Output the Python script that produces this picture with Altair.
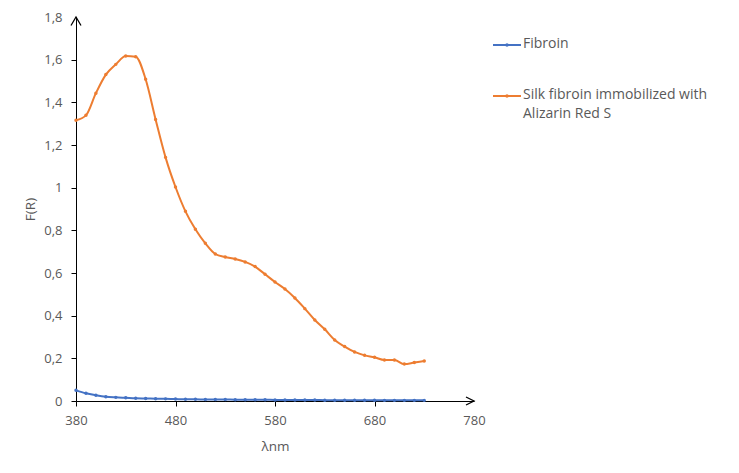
import altair as alt
import pandas as pd

wavelength = [380, 390, 400, 410, 420, 430, 440, 450, 460, 470, 480, 490, 500, 510,
              520, 530, 540, 550, 560, 570, 580, 590, 600, 610, 620, 630, 640, 650,
              660, 670, 680, 690, 700, 710, 720, 730]

fibroin = [0.050, 0.036, 0.027, 0.020, 0.017, 0.015, 0.013, 0.012, 0.011, 0.010,
           0.009, 0.008, 0.008, 0.007, 0.007, 0.007, 0.006, 0.006, 0.006, 0.006,
           0.005, 0.005, 0.005, 0.005, 0.005, 0.004, 0.004, 0.004, 0.004, 0.004,
           0.004, 0.003, 0.003, 0.003, 0.003, 0.003]

alizarin = [1.316, 1.339, 1.443, 1.530, 1.578, 1.617, 1.614, 1.508, 1.320, 1.142,
            1.003, 0.889, 0.805, 0.739, 0.689, 0.675, 0.666, 0.652, 0.630, 0.594,
            0.558, 0.525, 0.483, 0.433, 0.380, 0.336, 0.286, 0.255, 0.230, 0.214,
            0.205, 0.192, 0.192, 0.173, 0.180, 0.187]

series_names = ["Fibroin", "Silk fibroin immobilized with Alizarin Red S"]
legend_labels = ["Fibroin", "Silk fibroin immobilized with\nAlizarin Red S"]
colors = ["#4472C4", "#ED7D31"]

x_ticks = [380, 480, 580, 680, 780]
y_ticks = [0, 0.2, 0.4, 0.6, 0.8, 1.0, 1.2, 1.4, 1.6, 1.8]

df = pd.DataFrame({
    "nm": wavelength * 2,
    "value": fibroin + alizarin,
    "series": [series_names[0]] * len(wavelength) + [series_names[1]] * len(wavelength),
})

TXT = "#595959"
FONT = "Open Sans"

xscale = alt.Scale(domain=[380, 780], nice=False, zero=False)
yscale = alt.Scale(domain=[0, 1.8], nice=False)
cscale = alt.Scale(domain=series_names, range=colors)

x_enc = alt.X("nm:Q", scale=xscale, axis=alt.Axis(
    values=x_ticks, title="λnm", grid=False,
    domainColor="black", domainWidth=1,
    tickColor={"condition": {"test": "datum.value >= 779", "value": "transparent"}, "value": "black"},
    tickSize=5, labelPadding=8, labelFontSize=13, labelFont=FONT, labelColor=TXT,
    titleFontSize=13.5, titleFont=FONT, titleColor=TXT, titleFontWeight="normal",
    titleX=199, titleY=45, titleBaseline="middle", titleAlign="center",
    labelFlush=False))
y_enc = alt.Y("value:Q", scale=yscale, axis=alt.Axis(
    values=y_ticks, title="F(R)", grid=False,
    domainColor="black", domainWidth=1,
    tickColor={"condition": {"test": "datum.value >= 1.79", "value": "transparent"}, "value": "black"},
    tickSize=5, labelPadding=9, labelFontSize=13, labelFont=FONT, labelColor=TXT,
    labelExpr="replace(format(datum.value, '.2~f'), '.', ',')",
    titleFontSize=13.5, titleFont=FONT, titleColor=TXT, titleFontWeight="normal",
    titleX=-46, titleY=192, titleAngle=270, titleBaseline="middle", titleAlign="center",
    labelFlush=False))

base = alt.Chart(df)
lines = base.mark_line(interpolate="monotone", strokeWidth=2).encode(
    x=x_enc, y=y_enc,
    color=alt.Color("series:N", scale=cscale, legend=None),
    detail="series:N",
)
points = base.mark_point(filled=True, size=12, opacity=1).encode(
    x="nm:Q", y="value:Q",
    color=alt.Color("series:N", scale=cscale, legend=None),
)

up_arrow = alt.Chart(pd.DataFrame({"nm": [380], "value": [1.8]})).mark_point(
    shape="M-1,1.7 L0,0 L1,1.7", size=100, filled=False, stroke="black",
    strokeWidth=1.3, opacity=1).encode(x="nm:Q", y="value:Q")
right_arrow = alt.Chart(pd.DataFrame({"nm": [780], "value": [0]})).mark_point(
    shape="M-1.6,-0.8 L0,0 L-1.6,0.8", size=100, filled=False, stroke="black",
    strokeWidth=1.3, opacity=1).encode(x="nm:Q", y="value:Q")

legend_layers = []
legend_y = [28, 79]
for i in range(2):
    d = pd.DataFrame({"label": [legend_labels[i]]})
    c = alt.Chart(d)
    legend_layers.append(c.mark_rule(color=colors[i], strokeWidth=2).encode(
        x=alt.value(417), x2=alt.value(445), y=alt.value(legend_y[i])))
    legend_layers.append(c.mark_point(filled=True, size=12, color=colors[i], opacity=1).encode(
        x=alt.value(431), y=alt.value(legend_y[i])))
    legend_layers.append(c.mark_text(align="left", baseline="top", lineBreak="\n",
                                     lineHeight=19.5, fontSize=14, font=FONT, color=TXT).encode(
        x=alt.value(447), y=alt.value(legend_y[i] - 8.5), text="label:N"))

chart = alt.layer(lines, points, up_arrow, right_arrow, *legend_layers).properties(
    width=398, height=384,
    padding={"left": 68, "top": 9, "right": 250, "bottom": 55},
    autosize=alt.AutoSizeParams(type="none"),
    background="white",
).configure_view(stroke=None)

chart.save("out.html", embed_options={"renderer": "svg", "actions": False})
